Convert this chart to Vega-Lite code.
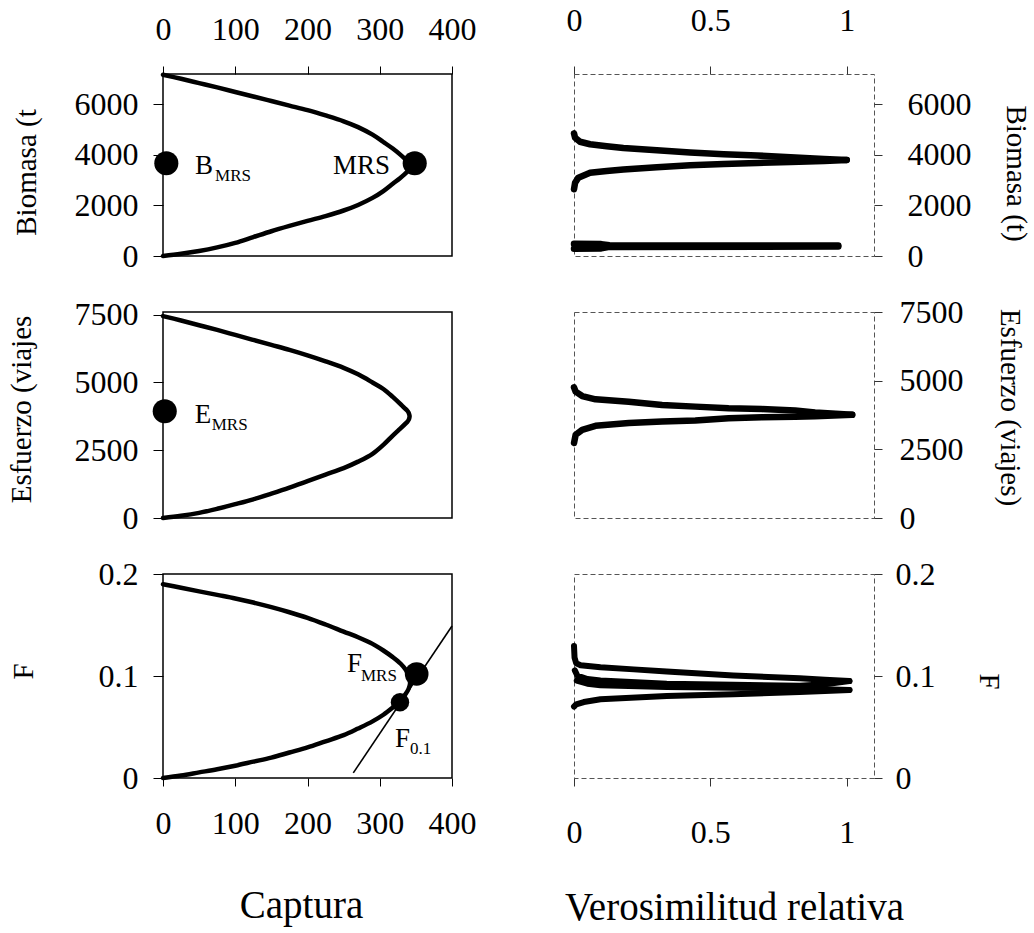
{
  "$schema": "https://vega.github.io/schema/vega-lite/v6.json",
  "background": "white",
  "padding": {"left": 6, "top": 3, "right": 5, "bottom": 5},
  "columns": 2,
  "spacing": {"row": 56, "column": 122},
  "bounds": "flush",
  "config": {
    "font": "Liberation Serif",
    "view": {"stroke": null},
    "axis": {"labelFont": "Liberation Serif", "labelFontSize": 32, "labelColor": "black", "titleFont": "Liberation Serif", "titleFontSize": 29, "titleFontWeight": "normal", "titleColor": "black", "tickColor": "black", "tickWidth": 1, "grid": false, "labelOverlap": false, "labelFlush": false, "domain": false},
    "text": {"font": "Liberation Serif", "color": "black"}
  },
  "datasets": {
    "curvaBiomasa": [
      {"i": 1, "captura": 0, "biomasa": 7170}, {"i": 2, "captura": 25, "biomasa": 7010}, {"i": 3, "captura": 50, "biomasa": 6840}, {"i": 4, "captura": 75, "biomasa": 6670},
      {"i": 5, "captura": 100, "biomasa": 6490}, {"i": 6, "captura": 125, "biomasa": 6310}, {"i": 7, "captura": 150, "biomasa": 6130}, {"i": 8, "captura": 175, "biomasa": 5950},
      {"i": 9, "captura": 200, "biomasa": 5770}, {"i": 10, "captura": 225, "biomasa": 5560}, {"i": 11, "captura": 250, "biomasa": 5330}, {"i": 12, "captura": 270, "biomasa": 5100},
      {"i": 13, "captura": 290, "biomasa": 4800}, {"i": 14, "captura": 305, "biomasa": 4510}, {"i": 15, "captura": 318, "biomasa": 4250}, {"i": 16, "captura": 328, "biomasa": 4020},
      {"i": 17, "captura": 335, "biomasa": 3840}, {"i": 18, "captura": 340, "biomasa": 3690}, {"i": 19, "captura": 343, "biomasa": 3550}, {"i": 20, "captura": 340, "biomasa": 3400},
      {"i": 21, "captura": 335, "biomasa": 3250}, {"i": 22, "captura": 328, "biomasa": 3080}, {"i": 23, "captura": 318, "biomasa": 2860}, {"i": 24, "captura": 305, "biomasa": 2570},
      {"i": 25, "captura": 290, "biomasa": 2300}, {"i": 26, "captura": 270, "biomasa": 2020}, {"i": 27, "captura": 250, "biomasa": 1800}, {"i": 28, "captura": 225, "biomasa": 1580},
      {"i": 29, "captura": 200, "biomasa": 1390}, {"i": 30, "captura": 175, "biomasa": 1190}, {"i": 31, "captura": 150, "biomasa": 980}, {"i": 32, "captura": 125, "biomasa": 750},
      {"i": 33, "captura": 100, "biomasa": 520}, {"i": 34, "captura": 75, "biomasa": 340}, {"i": 35, "captura": 50, "biomasa": 195}, {"i": 36, "captura": 25, "biomasa": 85},
      {"i": 37, "captura": 0, "biomasa": 0}
    ],
    "puntosBiomasa": [
      {"punto": "B_MRS", "captura": 4.6, "biomasa": 3667},
      {"punto": "MRS", "captura": 348.4, "biomasa": 3667}
    ],
    "textosBiomasa": [
      {"texto": "B", "tipo": "principal", "captura": 44.3, "biomasa": 3244},
      {"texto": "MRS", "tipo": "sub", "captura": 72, "biomasa": 2967},
      {"texto": "MRS", "tipo": "principal", "captura": 235.3, "biomasa": 3244}
    ],
    "curvaEsfuerzo": [
      {"i": 1, "captura": 0, "esfuerzo": 7450}, {"i": 2, "captura": 25, "esfuerzo": 7286}, {"i": 3, "captura": 50, "esfuerzo": 7112}, {"i": 4, "captura": 75, "esfuerzo": 6938},
      {"i": 5, "captura": 100, "esfuerzo": 6754}, {"i": 6, "captura": 125, "esfuerzo": 6570}, {"i": 7, "captura": 150, "esfuerzo": 6386}, {"i": 8, "captura": 175, "esfuerzo": 6202},
      {"i": 9, "captura": 200, "esfuerzo": 6000}, {"i": 10, "captura": 225, "esfuerzo": 5780}, {"i": 11, "captura": 250, "esfuerzo": 5540}, {"i": 12, "captura": 270, "esfuerzo": 5300},
      {"i": 13, "captura": 290, "esfuerzo": 5000}, {"i": 14, "captura": 305, "esfuerzo": 4760}, {"i": 15, "captura": 318, "esfuerzo": 4470}, {"i": 16, "captura": 328, "esfuerzo": 4220},
      {"i": 17, "captura": 334, "esfuerzo": 4060}, {"i": 18, "captura": 338, "esfuerzo": 3960}, {"i": 19, "captura": 340, "esfuerzo": 3880}, {"i": 20, "captura": 341, "esfuerzo": 3800},
      {"i": 21, "captura": 341.3, "esfuerzo": 3750}, {"i": 22, "captura": 341, "esfuerzo": 3700}, {"i": 23, "captura": 340, "esfuerzo": 3620}, {"i": 24, "captura": 338, "esfuerzo": 3540},
      {"i": 25, "captura": 334, "esfuerzo": 3440}, {"i": 26, "captura": 328, "esfuerzo": 3290}, {"i": 27, "captura": 318, "esfuerzo": 3040}, {"i": 28, "captura": 305, "esfuerzo": 2700},
      {"i": 29, "captura": 290, "esfuerzo": 2370}, {"i": 30, "captura": 270, "esfuerzo": 2080}, {"i": 31, "captura": 250, "esfuerzo": 1840}, {"i": 32, "captura": 225, "esfuerzo": 1600},
      {"i": 33, "captura": 200, "esfuerzo": 1360}, {"i": 34, "captura": 175, "esfuerzo": 1120}, {"i": 35, "captura": 150, "esfuerzo": 900}, {"i": 36, "captura": 125, "esfuerzo": 690},
      {"i": 37, "captura": 100, "esfuerzo": 510}, {"i": 38, "captura": 75, "esfuerzo": 340}, {"i": 39, "captura": 50, "esfuerzo": 190}, {"i": 40, "captura": 25, "esfuerzo": 80},
      {"i": 41, "captura": 0, "esfuerzo": 0}
    ],
    "puntosEsfuerzo": [
      {"punto": "E_MRS", "captura": 2.4, "esfuerzo": 3937}
    ],
    "textosEsfuerzo": [
      {"texto": "E", "tipo": "principal", "captura": 43.9, "esfuerzo": 3506},
      {"texto": "MRS", "tipo": "sub", "captura": 67.4, "esfuerzo": 3258}
    ],
    "curvaF": [
      {"i": 1, "captura": 0, "F": 0.190}, {"i": 2, "captura": 25, "F": 0.1865}, {"i": 3, "captura": 50, "F": 0.183}, {"i": 4, "captura": 75, "F": 0.1795},
      {"i": 5, "captura": 100, "F": 0.176}, {"i": 6, "captura": 125, "F": 0.172}, {"i": 7, "captura": 150, "F": 0.1675}, {"i": 8, "captura": 175, "F": 0.1625},
      {"i": 9, "captura": 200, "F": 0.157}, {"i": 10, "captura": 225, "F": 0.1505}, {"i": 11, "captura": 250, "F": 0.1435}, {"i": 12, "captura": 270, "F": 0.1380},
      {"i": 13, "captura": 290, "F": 0.1315}, {"i": 14, "captura": 305, "F": 0.1250}, {"i": 15, "captura": 318, "F": 0.1185}, {"i": 16, "captura": 329, "F": 0.1120},
      {"i": 17, "captura": 336, "F": 0.1060}, {"i": 18, "captura": 340, "F": 0.1000}, {"i": 19, "captura": 342, "F": 0.0930}, {"i": 20, "captura": 340, "F": 0.0875},
      {"i": 21, "captura": 336, "F": 0.0825}, {"i": 22, "captura": 328, "F": 0.0750}, {"i": 23, "captura": 318, "F": 0.0690}, {"i": 24, "captura": 305, "F": 0.0620},
      {"i": 25, "captura": 290, "F": 0.0555}, {"i": 26, "captura": 270, "F": 0.0485}, {"i": 27, "captura": 250, "F": 0.0420}, {"i": 28, "captura": 225, "F": 0.0360},
      {"i": 29, "captura": 200, "F": 0.0300}, {"i": 30, "captura": 175, "F": 0.0250}, {"i": 31, "captura": 150, "F": 0.0200}, {"i": 32, "captura": 125, "F": 0.0160},
      {"i": 33, "captura": 100, "F": 0.0120}, {"i": 34, "captura": 75, "F": 0.0085}, {"i": 35, "captura": 50, "F": 0.0055}, {"i": 36, "captura": 25, "F": 0.0025},
      {"i": 37, "captura": 0, "F": 0}
    ],
    "tangenteF": [
      {"i": 1, "captura": 263.4, "F": 0.005},
      {"i": 2, "captura": 400, "F": 0.149}
    ],
    "puntosF": [
      {"punto": "F_MRS", "captura": 351.1, "F": 0.102},
      {"punto": "F_0.1", "captura": 328, "F": 0.0742}
    ],
    "textosF": [
      {"texto": "F", "tipo": "principal", "captura": 254.7, "F": 0.1039},
      {"texto": "MRS", "tipo": "sub", "captura": 274, "F": 0.0951},
      {"texto": "F", "tipo": "principal", "captura": 321.1, "F": 0.0304},
      {"texto": "0.1", "tipo": "sub", "captura": 341.9, "F": 0.0235}
    ],
    "perfilBiomasa": [
      {"serie": "sup", "i": 1, "verosimilitud": 0, "biomasa": 4850}, {"serie": "sup", "i": 2, "verosimilitud": 0.004, "biomasa": 4680},
      {"serie": "sup", "i": 3, "verosimilitud": 0.022, "biomasa": 4520}, {"serie": "sup", "i": 4, "verosimilitud": 0.059, "biomasa": 4420},
      {"serie": "sup", "i": 5, "verosimilitud": 0.12, "biomasa": 4340}, {"serie": "sup", "i": 6, "verosimilitud": 0.181, "biomasa": 4270},
      {"serie": "sup", "i": 7, "verosimilitud": 0.304, "biomasa": 4185}, {"serie": "sup", "i": 8, "verosimilitud": 0.426, "biomasa": 4095},
      {"serie": "sup", "i": 9, "verosimilitud": 0.549, "biomasa": 4030}, {"serie": "sup", "i": 10, "verosimilitud": 0.672, "biomasa": 3975},
      {"serie": "sup", "i": 11, "verosimilitud": 0.794, "biomasa": 3905}, {"serie": "sup", "i": 12, "verosimilitud": 0.917, "biomasa": 3840},
      {"serie": "sup", "i": 13, "verosimilitud": 1.0, "biomasa": 3800},
      {"serie": "inf", "i": 1, "verosimilitud": 0, "biomasa": 2640}, {"serie": "inf", "i": 2, "verosimilitud": 0.004, "biomasa": 2900},
      {"serie": "inf", "i": 3, "verosimilitud": 0.016, "biomasa": 3100}, {"serie": "inf", "i": 4, "verosimilitud": 0.059, "biomasa": 3290},
      {"serie": "inf", "i": 5, "verosimilitud": 0.12, "biomasa": 3360}, {"serie": "inf", "i": 6, "verosimilitud": 0.181, "biomasa": 3420},
      {"serie": "inf", "i": 7, "verosimilitud": 0.304, "biomasa": 3510}, {"serie": "inf", "i": 8, "verosimilitud": 0.426, "biomasa": 3590},
      {"serie": "inf", "i": 9, "verosimilitud": 0.549, "biomasa": 3640}, {"serie": "inf", "i": 10, "verosimilitud": 0.672, "biomasa": 3680},
      {"serie": "inf", "i": 11, "verosimilitud": 0.794, "biomasa": 3720}, {"serie": "inf", "i": 12, "verosimilitud": 0.917, "biomasa": 3760},
      {"serie": "inf", "i": 13, "verosimilitud": 1.0, "biomasa": 3800},
      {"serie": "bajo1", "i": 1, "verosimilitud": 0, "biomasa": 480}, {"serie": "bajo1", "i": 2, "verosimilitud": 0.1, "biomasa": 470},
      {"serie": "bajo1", "i": 3, "verosimilitud": 0.13, "biomasa": 430}, {"serie": "bajo1", "i": 4, "verosimilitud": 0.969, "biomasa": 415},
      {"serie": "bajo2", "i": 1, "verosimilitud": 0, "biomasa": 290}, {"serie": "bajo2", "i": 2, "verosimilitud": 0.1, "biomasa": 300},
      {"serie": "bajo2", "i": 3, "verosimilitud": 0.13, "biomasa": 360}, {"serie": "bajo2", "i": 4, "verosimilitud": 0.969, "biomasa": 375}
    ],
    "perfilEsfuerzo": [
      {"serie": "sup", "i": 1, "verosimilitud": 0, "esfuerzo": 4760}, {"serie": "sup", "i": 2, "verosimilitud": 0.006, "esfuerzo": 4600},
      {"serie": "sup", "i": 3, "verosimilitud": 0.03, "esfuerzo": 4440}, {"serie": "sup", "i": 4, "verosimilitud": 0.079, "esfuerzo": 4320},
      {"serie": "sup", "i": 5, "verosimilitud": 0.201, "esfuerzo": 4235}, {"serie": "sup", "i": 6, "verosimilitud": 0.323, "esfuerzo": 4115},
      {"serie": "sup", "i": 7, "verosimilitud": 0.445, "esfuerzo": 4055}, {"serie": "sup", "i": 8, "verosimilitud": 0.567, "esfuerzo": 3995},
      {"serie": "sup", "i": 9, "verosimilitud": 0.689, "esfuerzo": 3965}, {"serie": "sup", "i": 10, "verosimilitud": 0.811, "esfuerzo": 3910},
      {"serie": "sup", "i": 11, "verosimilitud": 0.884, "esfuerzo": 3840}, {"serie": "sup", "i": 12, "verosimilitud": 1.02, "esfuerzo": 3755},
      {"serie": "inf", "i": 1, "verosimilitud": 0, "esfuerzo": 2730}, {"serie": "inf", "i": 2, "verosimilitud": 0.006, "esfuerzo": 3030},
      {"serie": "inf", "i": 3, "verosimilitud": 0.03, "esfuerzo": 3210}, {"serie": "inf", "i": 4, "verosimilitud": 0.079, "esfuerzo": 3355},
      {"serie": "inf", "i": 5, "verosimilitud": 0.201, "esfuerzo": 3455}, {"serie": "inf", "i": 6, "verosimilitud": 0.323, "esfuerzo": 3515},
      {"serie": "inf", "i": 7, "verosimilitud": 0.445, "esfuerzo": 3550}, {"serie": "inf", "i": 8, "verosimilitud": 0.567, "esfuerzo": 3630},
      {"serie": "inf", "i": 9, "verosimilitud": 0.689, "esfuerzo": 3665}, {"serie": "inf", "i": 10, "verosimilitud": 0.811, "esfuerzo": 3690},
      {"serie": "inf", "i": 11, "verosimilitud": 0.884, "esfuerzo": 3700}, {"serie": "inf", "i": 12, "verosimilitud": 1.02, "esfuerzo": 3755}
    ],
    "perfilF": [
      {"serie": "A_sup", "i": 1, "verosimilitud": 0, "F": 0.1295}, {"serie": "A_sup", "i": 2, "verosimilitud": 0.002, "F": 0.118},
      {"serie": "A_sup", "i": 3, "verosimilitud": 0.008, "F": 0.1125}, {"serie": "A_sup", "i": 4, "verosimilitud": 0.024, "F": 0.1105},
      {"serie": "A_sup", "i": 5, "verosimilitud": 0.097, "F": 0.1085}, {"serie": "A_sup", "i": 6, "verosimilitud": 0.219, "F": 0.1065},
      {"serie": "A_sup", "i": 7, "verosimilitud": 0.34, "F": 0.1045}, {"serie": "A_sup", "i": 8, "verosimilitud": 0.584, "F": 0.1005},
      {"serie": "A_sup", "i": 9, "verosimilitud": 0.827, "F": 0.0978}, {"serie": "A_sup", "i": 10, "verosimilitud": 0.92, "F": 0.0963},
      {"serie": "A_sup", "i": 11, "verosimilitud": 1.01, "F": 0.095},
      {"serie": "A_inf", "i": 1, "verosimilitud": 0.003, "F": 0.1055}, {"serie": "A_inf", "i": 2, "verosimilitud": 0.012, "F": 0.1005},
      {"serie": "A_inf", "i": 3, "verosimilitud": 0.049, "F": 0.097}, {"serie": "A_inf", "i": 4, "verosimilitud": 0.097, "F": 0.0955},
      {"serie": "A_inf", "i": 5, "verosimilitud": 0.34, "F": 0.0925}, {"serie": "A_inf", "i": 6, "verosimilitud": 0.584, "F": 0.0913},
      {"serie": "A_inf", "i": 7, "verosimilitud": 0.827, "F": 0.0905}, {"serie": "A_inf", "i": 8, "verosimilitud": 0.92, "F": 0.092},
      {"serie": "A_inf", "i": 9, "verosimilitud": 1.01, "F": 0.095},
      {"serie": "B_sup", "i": 1, "verosimilitud": 0.01, "F": 0.0955}, {"serie": "B_sup", "i": 2, "verosimilitud": 0.049, "F": 0.0925},
      {"serie": "B_sup", "i": 3, "verosimilitud": 0.097, "F": 0.091}, {"serie": "B_sup", "i": 4, "verosimilitud": 0.34, "F": 0.0893},
      {"serie": "B_sup", "i": 5, "verosimilitud": 0.584, "F": 0.0885}, {"serie": "B_sup", "i": 6, "verosimilitud": 0.827, "F": 0.0878},
      {"serie": "B_sup", "i": 7, "verosimilitud": 0.92, "F": 0.087}, {"serie": "B_sup", "i": 8, "verosimilitud": 1.01, "F": 0.0863},
      {"serie": "B_inf", "i": 1, "verosimilitud": 0, "F": 0.070}, {"serie": "B_inf", "i": 2, "verosimilitud": 0.008, "F": 0.0722},
      {"serie": "B_inf", "i": 3, "verosimilitud": 0.036, "F": 0.0745}, {"serie": "B_inf", "i": 4, "verosimilitud": 0.097, "F": 0.0772},
      {"serie": "B_inf", "i": 5, "verosimilitud": 0.34, "F": 0.0803}, {"serie": "B_inf", "i": 6, "verosimilitud": 0.584, "F": 0.0822},
      {"serie": "B_inf", "i": 7, "verosimilitud": 0.827, "F": 0.0842}, {"serie": "B_inf", "i": 8, "verosimilitud": 0.92, "F": 0.0853},
      {"serie": "B_inf", "i": 9, "verosimilitud": 1.01, "F": 0.0863}
    ]
  },
  "concat": [
    {
      "width": 289, "height": 182,
      "view": {"stroke": "black", "strokeWidth": 1.5},
      "encoding": {
        "x": {"field": "captura", "type": "quantitative", "scale": {"domain": [0, 400], "nice": false, "zero": false},
          "axis": {"orient": "top", "values": [0, 100, 200, 300, 400], "format": "d", "title": null, "tickSize": 8, "labelPadding": 20}},
        "y": {"field": "biomasa", "type": "quantitative", "scale": {"domain": [0, 7200], "nice": false, "zero": false},
          "axis": {"orient": "left", "values": [0, 2000, 4000, 6000], "format": "d", "title": "Biomasa (t", "tickSize": 10, "labelPadding": 15, "titleX": -137, "titleY": 98, "titleAngle": -90, "titleBaseline": "middle", "titleAlign": "center"}}
      },
      "layer": [
        {"data": {"name": "curvaBiomasa"}, "mark": {"type": "line", "color": "black", "strokeWidth": 4.5, "strokeJoin": "round", "strokeCap": "round", "interpolate": "catmull-rom"},
          "encoding": {"order": {"field": "i", "type": "quantitative"}}},
        {"data": {"name": "puntosBiomasa"}, "mark": {"type": "circle", "color": "black", "opacity": 1, "size": 580}},
        {"data": {"name": "textosBiomasa"}, "transform": [{"filter": "datum.tipo === 'principal'"}],
          "mark": {"type": "text", "align": "left", "baseline": "alphabetic", "fontSize": 27, "color": "black"},
          "encoding": {"text": {"field": "texto"}}},
        {"data": {"name": "textosBiomasa"}, "transform": [{"filter": "datum.tipo === 'sub'"}],
          "mark": {"type": "text", "align": "left", "baseline": "alphabetic", "fontSize": 17, "color": "black"},
          "encoding": {"text": {"field": "texto"}}}
      ]
    },
    {
      "width": 300, "height": 182,
      "view": {"stroke": "#555555", "strokeWidth": 1, "strokeDash": [5, 3]},
      "data": {"name": "perfilBiomasa"},
      "mark": {"type": "line", "color": "black", "strokeWidth": 6.5, "strokeJoin": "round", "strokeCap": "round"},
      "encoding": {
        "x": {"field": "verosimilitud", "type": "quantitative", "scale": {"domain": [0, 1.1], "nice": false, "zero": false},
          "axis": {"orient": "top", "values": [0, 0.5, 1], "format": "~g", "title": null, "tickSize": 8, "labelPadding": 29, "tickColor": "#333333"}},
        "y": {"field": "biomasa", "type": "quantitative", "scale": {"domain": [0, 7200], "nice": false, "zero": false},
          "axis": {"orient": "right", "values": [0, 2000, 4000, 6000], "format": "d", "title": "Biomasa (t)", "tickSize": 8, "labelPadding": 25, "tickColor": "#333333", "titleX": 141, "titleY": 99, "titleAngle": 90, "titleBaseline": "middle", "titleAlign": "center"}},
        "detail": {"field": "serie", "type": "nominal"},
        "order": {"field": "i", "type": "quantitative"}
      }
    },
    {
      "width": 289, "height": 206,
      "view": {"stroke": "black", "strokeWidth": 1.5},
      "encoding": {
        "x": {"field": "captura", "type": "quantitative", "scale": {"domain": [0, 400], "nice": false, "zero": false}, "axis": null},
        "y": {"field": "esfuerzo", "type": "quantitative", "scale": {"domain": [0, 7600], "nice": false, "zero": false},
          "axis": {"orient": "left", "values": [0, 2500, 5000, 7500], "format": "d", "title": "Esfuerzo (viajes", "tickSize": 10, "labelPadding": 15, "titleX": -142, "titleY": 97, "titleAngle": -90, "titleBaseline": "middle", "titleAlign": "center"}}
      },
      "layer": [
        {"data": {"name": "curvaEsfuerzo"}, "mark": {"type": "line", "color": "black", "strokeWidth": 4.5, "strokeJoin": "round", "strokeCap": "round", "interpolate": "catmull-rom"},
          "encoding": {"order": {"field": "i", "type": "quantitative"}}},
        {"data": {"name": "puntosEsfuerzo"}, "mark": {"type": "circle", "color": "black", "opacity": 1, "size": 580}},
        {"data": {"name": "textosEsfuerzo"}, "transform": [{"filter": "datum.tipo === 'principal'"}],
          "mark": {"type": "text", "align": "left", "baseline": "alphabetic", "fontSize": 27, "color": "black"},
          "encoding": {"text": {"field": "texto"}}},
        {"data": {"name": "textosEsfuerzo"}, "transform": [{"filter": "datum.tipo === 'sub'"}],
          "mark": {"type": "text", "align": "left", "baseline": "alphabetic", "fontSize": 17, "color": "black"},
          "encoding": {"text": {"field": "texto"}}}
      ]
    },
    {
      "width": 300, "height": 206,
      "view": {"stroke": "#555555", "strokeWidth": 1, "strokeDash": [5, 3]},
      "data": {"name": "perfilEsfuerzo"},
      "mark": {"type": "line", "color": "black", "strokeWidth": 6.5, "strokeJoin": "round", "strokeCap": "round"},
      "encoding": {
        "x": {"field": "verosimilitud", "type": "quantitative", "scale": {"domain": [0, 1.1], "nice": false, "zero": false}, "axis": null},
        "y": {"field": "esfuerzo", "type": "quantitative", "scale": {"domain": [0, 7500], "nice": false, "zero": false},
          "axis": {"orient": "right", "values": [0, 2500, 5000, 7500], "format": "d", "title": "Esfuerzo (viajes)", "tickSize": 8, "labelPadding": 17, "tickColor": "#333333", "titleX": 135, "titleY": 95, "titleAngle": 90, "titleBaseline": "middle", "titleAlign": "center"}},
        "detail": {"field": "serie", "type": "nominal"},
        "order": {"field": "i", "type": "quantitative"}
      }
    },
    {
      "width": 289, "height": 204,
      "view": {"stroke": "black", "strokeWidth": 1.5},
      "encoding": {
        "x": {"field": "captura", "type": "quantitative", "scale": {"domain": [0, 400], "nice": false, "zero": false},
          "axis": {"orient": "bottom", "values": [0, 100, 200, 300, 400], "format": "d", "title": "Captura", "titleFontSize": 39, "tickSize": 8, "labelPadding": 22, "titleX": 138, "titleY": 139, "titleBaseline": "alphabetic", "titleAlign": "center"}},
        "y": {"field": "F", "type": "quantitative", "scale": {"domain": [0, 0.2], "nice": false, "zero": false},
          "axis": {"orient": "left", "values": [0, 0.1, 0.2], "format": "~g", "title": "F", "tickSize": 10, "labelPadding": 15, "titleX": -140, "titleY": 97, "titleAngle": -90, "titleBaseline": "middle", "titleAlign": "center"}}
      },
      "layer": [
        {"data": {"name": "curvaF"}, "mark": {"type": "line", "color": "black", "strokeWidth": 4.5, "strokeJoin": "round", "strokeCap": "round", "interpolate": "catmull-rom"},
          "encoding": {"order": {"field": "i", "type": "quantitative"}}},
        {"data": {"name": "tangenteF"}, "mark": {"type": "line", "color": "black", "strokeWidth": 1.6},
          "encoding": {"order": {"field": "i", "type": "quantitative"}}},
        {"data": {"name": "puntosF"}, "transform": [{"filter": "datum.punto === 'F_MRS'"}], "mark": {"type": "circle", "color": "black", "opacity": 1, "size": 560}},
        {"data": {"name": "puntosF"}, "transform": [{"filter": "datum.punto === 'F_0.1'"}], "mark": {"type": "circle", "color": "black", "opacity": 1, "size": 340}},
        {"data": {"name": "textosF"}, "transform": [{"filter": "datum.tipo === 'principal'"}],
          "mark": {"type": "text", "align": "left", "baseline": "alphabetic", "fontSize": 27, "color": "black"},
          "encoding": {"text": {"field": "texto"}}},
        {"data": {"name": "textosF"}, "transform": [{"filter": "datum.tipo === 'sub'"}],
          "mark": {"type": "text", "align": "left", "baseline": "alphabetic", "fontSize": 17, "color": "black"},
          "encoding": {"text": {"field": "texto"}}}
      ]
    },
    {
      "width": 300, "height": 204,
      "view": {"stroke": "#555555", "strokeWidth": 1, "strokeDash": [5, 3]},
      "data": {"name": "perfilF"},
      "mark": {"type": "line", "color": "black", "strokeWidth": 6, "strokeJoin": "round", "strokeCap": "round"},
      "encoding": {
        "x": {"field": "verosimilitud", "type": "quantitative", "scale": {"domain": [0, 1.1], "nice": false, "zero": false},
          "axis": {"orient": "bottom", "values": [0, 0.5, 1], "format": "~g", "title": "Verosimilitud relativa", "titleFontSize": 39, "tickSize": 8, "labelPadding": 31, "tickColor": "#333333", "titleX": 160, "titleY": 141, "titleBaseline": "alphabetic", "titleAlign": "center"}},
        "y": {"field": "F", "type": "quantitative", "scale": {"domain": [0, 0.2], "nice": false, "zero": false},
          "axis": {"orient": "right", "values": [0, 0.1, 0.2], "format": "~g", "title": "F", "tickSize": 8, "labelPadding": 13, "tickColor": "#333333", "titleX": 114, "titleY": 107, "titleAngle": 90, "titleBaseline": "middle", "titleAlign": "center"}},
        "detail": {"field": "serie", "type": "nominal"},
        "order": {"field": "i", "type": "quantitative"}
      }
    }
  ]
}
